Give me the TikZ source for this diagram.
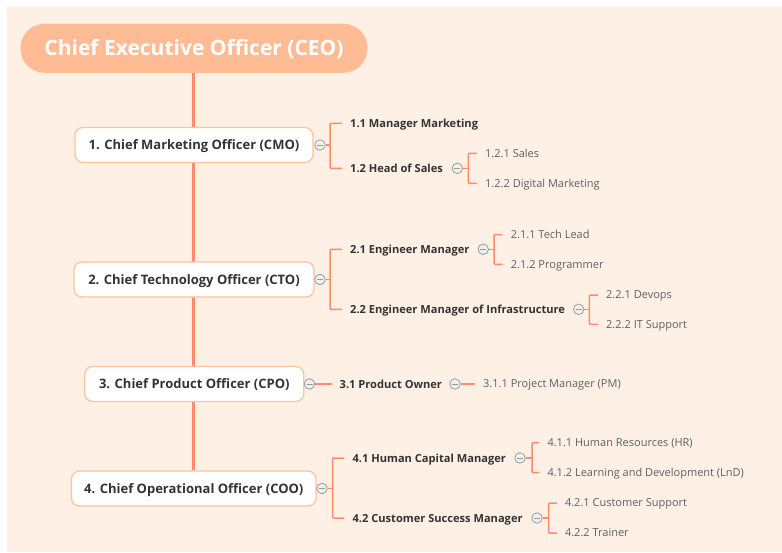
\documentclass[tikz,border=0pt]{standalone}
\usepackage{fontspec}
\setmainfont{Open Sans}
\definecolor{paper}{HTML}{FFF0E6}
\definecolor{ceofill}{HTML}{FFBB93}
\definecolor{coral}{HTML}{FF8C6A}
\definecolor{boxline}{HTML}{FFC3A0}
\definecolor{ink}{HTML}{333333}
\definecolor{soft}{HTML}{606060}
\definecolor{knob}{HTML}{9A9A9A}
\pgfdeclarelayer{backdrop}
\pgfdeclarelayer{under}
\pgfsetlayers{backdrop,under,main}
\begin{document}
\begin{tikzpicture}[x=1pt,y=-1pt,
  ceobox/.style={rectangle, rounded corners=24pt, fill=ceofill, text=white,
    font=\bfseries\fontsize{21}{25}\selectfont, minimum width=347pt, minimum height=49pt,
    inner sep=0pt, text height=15pt, text depth=0pt},
  lvone/.style={rectangle, rounded corners=8pt, draw=boxline, line width=1.3pt, fill=white,
    text=ink, font=\bfseries\fontsize{13}{16}\selectfont, minimum height=35pt, inner sep=0pt,
    text height=9.3pt, text depth=0pt},
  lvtwo/.style={anchor=west, inner xsep=8pt, inner ysep=2pt, text=ink,
    font=\bfseries\fontsize{11.1}{14}\selectfont, text height=8pt, text depth=0pt},
  lvthree/.style={anchor=west, inner xsep=8pt, inner ysep=2pt, text=soft,
    font=\fontsize{11}{14}\selectfont, text height=7.9pt, text depth=0pt},
  tog/.style={circle, draw=knob, fill=white!94!black, line width=0.8pt, minimum size=10.5pt, inner sep=0pt,
    path picture={\draw[knob, line width=0.8pt]
      ([xshift=-3pt]path picture bounding box.center) -- ([xshift=3pt]path picture bounding box.center);}},
  branch/.style={draw=coral, line width=1.5pt, rounded corners=1pt},
  trunk/.style={draw=coral, line width=2.7pt}]

\useasboundingbox (0,0) rectangle (782,552);
\begin{pgfonlayer}{backdrop}
  \fill[paper] (7,6) rectangle (782,552);
\end{pgfonlayer}

% root and first level
\node[ceobox] (ceo) at (194,48.3) {Chief Executive Officer (CEO)};
\node[lvone, minimum width=238pt] (cmo) at (194,145) {1. Chief Marketing Officer (CMO)};
\node[lvone, minimum width=240pt] (cto) at (194,279.5) {2. Chief Technology Officer (CTO)};
\node[lvone, minimum width=219pt] (cpo) at (194.3,384) {3. Chief Product Officer (CPO)};
\node[lvone, minimum width=244.5pt] (coo) at (193.8,488.5) {4. Chief Operational Officer (COO)};

\begin{pgfonlayer}{under}
  \draw[trunk] (ceo.south -| 193.3,0) -- (coo.north -| 193.3,0);
\end{pgfonlayer}

% collapse knobs beside the officers
\node[tog] (t1) at (320,145) {};
\node[tog] (t2) at (320,279.5) {};
\node[tog] (t3) at (309.5,384) {};
\node[tog] (t4) at (322,488.5) {};

\coordinate (k1) at (330,145);
\coordinate (k2) at (330,279.5);
\coordinate (k4) at (332.6,488.5);

% second level
\node[lvtwo] (n11) at (342,123.3) {1.1 Manager Marketing};
\node[lvtwo] (n12) at (342,168.3) {1.2 Head of Sales};
\node[lvtwo] (n21) at (342,249.3) {2.1 Engineer Manager};
\node[lvtwo] (n22) at (342,309.3) {2.2 Engineer Manager of Infrastructure};
\node[lvtwo] (n31) at (331.5,384) {3.1 Product Owner};
\node[lvtwo] (n41) at (344.4,458) {4.1 Human Capital Manager};
\node[lvtwo] (n42) at (344.4,518) {4.2 Customer Success Manager};

\node[tog] (t12) at (457.3,168.3) {};
\node[tog] (t21) at (483.3,249.3) {};
\node[tog] (t22) at (578.7,309.3) {};
\node[tog] (t31) at (455,384) {};
\node[tog] (t41) at (520,458) {};
\node[tog] (t42) at (537,518) {};

\coordinate (k12) at (468.3,168.3);
\coordinate (k21) at (494,249.3);
\coordinate (k22) at (589.3,309.3);
\coordinate (k41) at (532,458);
\coordinate (k42) at (548.7,518);

% third level
\node[lvthree] (n121) at (477,153.3) {1.2.1 Sales};
\node[lvthree] (n122) at (477,183.3) {1.2.2 Digital Marketing};
\node[lvthree] (n211) at (502.7,234.7) {2.1.1 Tech Lead};
\node[lvthree] (n212) at (502.7,264.3) {2.1.2 Programmer};
\node[lvthree] (n221) at (598,295) {2.2.1 Devops};
\node[lvthree] (n222) at (598,324.3) {2.2.2 IT Support};
\node[lvthree] (n311) at (475,384) {3.1.1 Project Manager (PM)};
\node[lvthree] (n411) at (539.3,442.7) {4.1.1 Human Resources (HR)};
\node[lvthree] (n412) at (539.3,472.7) {4.1.2 Learning and Development (LnD)};
\node[lvthree] (n421) at (556.8,503) {4.2.1 Customer Support};
\node[lvthree] (n422) at (556.8,533) {4.2.2 Trainer};

% brackets
\draw[branch] (t1) -- (k1);
\draw[branch] (n11.west) -| (k1) |- (n12.west);
\draw[branch] (t2) -- (k2);
\draw[branch] (n21.west) -| (k2) |- (n22.west);
\draw[branch] (t3) -- (n31.west);
\draw[branch] (t4) -- (k4);
\draw[branch] (n41.west) -| (k4) |- (n42.west);

\draw[branch] (t12) -- (k12);
\draw[branch] (n121.west) -| (k12) |- (n122.west);
\draw[branch] (t21) -- (k21);
\draw[branch] (n211.west) -| (k21) |- (n212.west);
\draw[branch] (t22) -- (k22);
\draw[branch] (n221.west) -| (k22) |- (n222.west);
\draw[branch] (t31) -- (n311.west);
\draw[branch] (t41) -- (k41);
\draw[branch] (n411.west) -| (k41) |- (n412.west);
\draw[branch] (t42) -- (k42);
\draw[branch] (n421.west) -| (k42) |- (n422.west);
\end{tikzpicture}
\end{document}
